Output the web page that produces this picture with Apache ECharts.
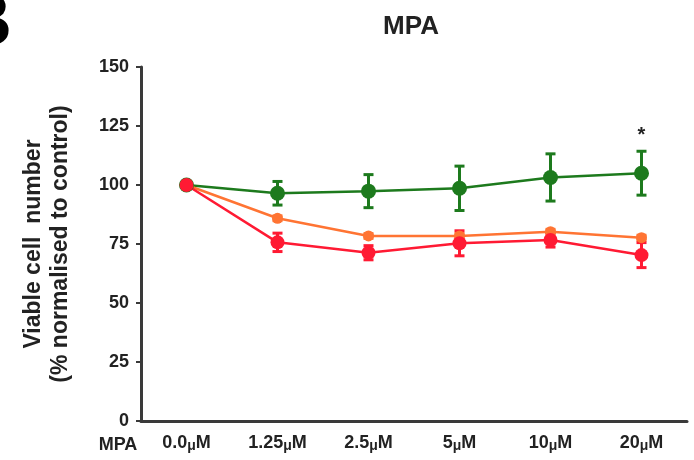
<!DOCTYPE html>
<html>
<head>
<meta charset="utf-8">
<script src="https://cdn.jsdelivr.net/npm/echarts@6/dist/echarts.min.js"></script>
<style>
  html, body { margin: 0; padding: 0; background: #fff; }
  #chart { width: 694px; height: 460px; }
</style>
</head>
<body>
<div id="chart"></div>
<script>
// Dose categories (MPA concentration)
const categories = ['0.0μM', '1.25μM', '2.5μM', '5μM', '10μM', '20μM'];

// Y axis ticks
const yTicks = [0, 25, 50, 75, 100, 125, 150];

// Viable cell number (% of control), mean and error per dose
const greenMean = [100, 96.5, 97.4, 98.6, 103.2, 105.0];
const greenErr  = [1.5, 5.0, 7.0, 9.4, 10.0, 9.3];
const orangeMean = [100, 85.9, 78.4, 78.4, 80.2, 77.7];
const orangeErr  = [1.0, 1.0, 1.0, 1.0, 1.0, 1.0];
const redMean = [100, 75.7, 71.3, 75.3, 76.7, 70.3];
const redErr  = [1.5, 3.9, 3.0, 5.3, 3.0, 5.3];

// Significance marks drawn above the green error bars
const greenSig = ['', '', '', '', '', '*'];

const GREEN = '#1d7a1d';
const ORANGE = '#ff7433';
const RED = '#ff1a33';
const AXIS = '#3a3a3a';
const FONT = '"Liberation Sans", Arial, sans-serif';

function errData(mean, err, sig) {
  return mean.map((m, i) => [i, m - err[i], m + err[i], sig ? sig[i] : '']);
}

function errorBarSeries(name, mean, err, color, sig) {
  return {
    type: 'custom',
    name: name + ' error',
    z: 3,
    data: errData(mean, err, sig),
    renderItem: function (params, api) {
      const x = api.value(0);
      const lo = api.coord([x, api.value(1)]);
      const hi = api.coord([x, api.value(2)]);
      const half = 5;
      const style = { stroke: color, lineWidth: 3 };
      const children = [
        { type: 'line', shape: { x1: lo[0], y1: lo[1], x2: hi[0], y2: hi[1] }, style: style },
        { type: 'line', shape: { x1: lo[0] - half, y1: lo[1], x2: lo[0] + half, y2: lo[1] }, style: style },
        { type: 'line', shape: { x1: hi[0] - half, y1: hi[1], x2: hi[0] + half, y2: hi[1] }, style: style }
      ];
      const mark = api.value(3);
      if (mark) {
        children.push({
          type: 'text',
          style: {
            text: mark, x: hi[0], y: hi[1] - 6,
            align: 'center', verticalAlign: 'bottom',
            fill: '#222', font: 'bold 20px ' + FONT
          }
        });
      }
      return { type: 'group', children: children };
    }
  };
}

function lineSeries(name, mean, color, size) {
  return {
    type: 'line',
    name: name,
    z: 4,
    data: mean,
    symbol: 'circle',
    symbolSize: size,
    lineStyle: { color: color, width: 2.5 },
    itemStyle: { color: color },
    emphasis: { disabled: true }
  };
}

const chart = echarts.init(document.getElementById('chart'), null, { renderer: 'canvas' });

chart.setOption({
  animation: false,
  backgroundColor: '#fff',
  grid: { left: 141, right: 7, top: 67, bottom: 39, containLabel: false, outerBoundsMode: 'none' },
  xAxis: {
    type: 'category',
    data: categories,
    boundaryGap: true,
    axisLine: { lineStyle: { color: AXIS, width: 3 } },
    axisTick: { alignWithLabel: true, length: 5, lineStyle: { color: AXIS, width: 2 } },
    axisLabel: {
      interval: 0,
      margin: 12,
      color: '#222',
      fontFamily: FONT,
      fontWeight: 'bold',
      fontSize: 18,
      formatter: v => v.replace('μ', '{u|μ}'),
      rich: { u: { fontFamily: FONT, fontWeight: 'bold', fontSize: 14, color: '#222', padding: [6, 0, 0, 0] } }
    }
  },
  yAxis: {
    type: 'value',
    min: yTicks[0],
    max: yTicks[yTicks.length - 1],
    interval: 25,
    name: 'Viable cell  number\n(% normalised to control)',
    nameLocation: 'middle',
    nameGap: 67,
    nameMoveOverlap: false,
    nameTextStyle: { color: '#222', fontFamily: FONT, fontWeight: 'bold', fontSize: 23, lineHeight: 27 },
    axisLine: { show: true, lineStyle: { color: AXIS, width: 3 } },
    axisTick: { show: true, length: 5, lineStyle: { color: AXIS, width: 2 } },
    splitLine: { show: false },
    axisLabel: { margin: 12, color: '#222', fontFamily: FONT, fontWeight: 'bold', fontSize: 18 }
  },
  graphic: [
    {
      type: 'text', x: 411, y: 27,
      style: { text: 'MPA', align: 'center', verticalAlign: 'middle', fill: '#222', font: 'bold 26px ' + FONT }
    },
    {
      type: 'text', x: 118, y: 445,
      style: { text: 'MPA', align: 'center', verticalAlign: 'middle', fill: '#222', font: 'bold 18px ' + FONT }
    },
    {
      type: 'text', x: 12, y: -12,
      style: { text: 'B', align: 'right', verticalAlign: 'top', fill: '#000', font: 'bold 74px ' + FONT }
    }
  ],
  series: [
    errorBarSeries('green', greenMean, greenErr, GREEN, greenSig),
    lineSeries('green', greenMean, GREEN, 15),
    errorBarSeries('orange', orangeMean, orangeErr, ORANGE),
    lineSeries('orange', orangeMean, ORANGE, 11),
    errorBarSeries('red', redMean, redErr, RED),
    lineSeries('red', redMean, RED, 14)
  ]
});
</script>
</body>
</html>
